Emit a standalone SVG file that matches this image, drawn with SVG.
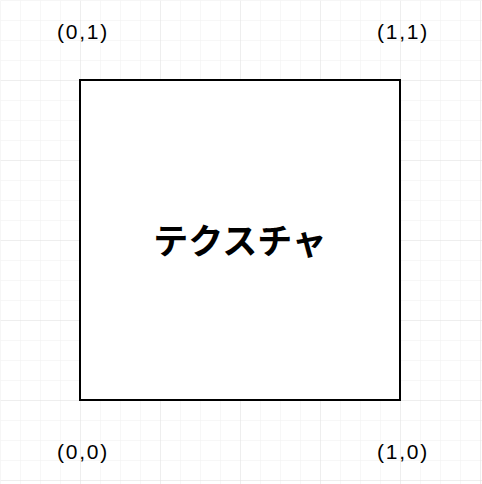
<svg xmlns="http://www.w3.org/2000/svg" width="482" height="484" viewBox="0 0 482 484">
<defs>
<pattern id="minor" width="20" height="20" patternUnits="userSpaceOnUse">
<path d="M20 0 L0 0 0 20" fill="none" stroke="#f0f0f0" stroke-width="1"/>
</pattern>
<pattern id="major" width="80" height="80" patternUnits="userSpaceOnUse">
<rect width="80" height="80" fill="url(#minor)"/>
<path d="M80 0 L0 0 0 80" fill="none" stroke="#e3e3e3" stroke-width="1"/>
</pattern>
</defs>
<style>
.lbl{font-family:"Liberation Sans",Arial,sans-serif;font-size:21px;letter-spacing:1.8px;fill:#000;text-anchor:middle}
.main{font-family:"Noto Sans CJK JP","Noto Sans CJK SC",sans-serif;font-size:35px;font-weight:bold;fill:#000;text-anchor:middle}
</style>
<rect width="482" height="484" fill="#ffffff"/>
<rect x="0.5" y="0.5" width="482" height="484" fill="url(#major)"/>
<g id="texture">
<rect x="80" y="80" width="320" height="320" fill="#ffffff" stroke="#000" stroke-width="2"/>
<text class="main" x="240" y="254">テクスチャ</text>
</g>
<g id="c01"><text class="lbl" x="83" y="39">(0,1)</text></g>
<g id="c11"><text class="lbl" x="403" y="39">(1,1)</text></g>
<g id="c00"><text class="lbl" x="83" y="459">(0,0)</text></g>
<g id="c10"><text class="lbl" x="403" y="459">(1,0)</text></g>
<g id="connectors"></g>
</svg>
